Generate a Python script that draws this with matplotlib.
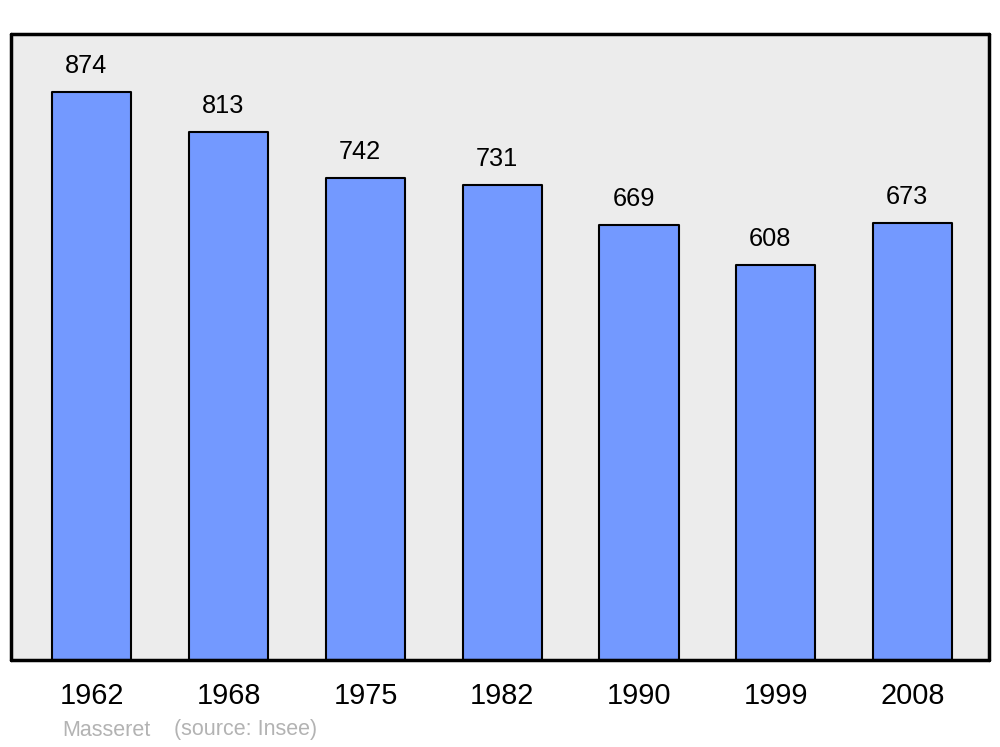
import matplotlib.pyplot as plt

years = ["1962", "1968", "1975", "1982", "1990", "1999", "2008"]
population = [874, 813, 742, 731, 669, 608, 673]

plt.rcParams['font.family'] = ['Liberation Sans', 'DejaVu Sans']

fig = plt.figure(figsize=(10, 7.47), dpi=100)
ax = fig.add_axes([0.011, 87 / 747, 0.978, 626 / 747])
ax.set_facecolor('#ececec')

x = range(len(years))
ax.bar(x, population, width=0.578, color='#7399ff', edgecolor='black',
       linewidth=1.5, joinstyle='round', zorder=2)

for i, v in enumerate(population):
    ax.text(i - 0.04, v + 26 / 0.65, str(v), ha='center', va='center', fontsize=18.3)

ax.set_xlim(-0.592, 6.559)
ax.set_ylim(0, 963)
ax.set_yticks([])
ax.set_xticks(list(x))
ax.set_xticklabels(years, fontsize=20.8)
ax.tick_params(axis='x', length=0, pad=16)
for s in ax.spines.values():
    s.set_linewidth(2.5)
    s.set_capstyle('round')
    s.set_joinstyle('round')

fig.text(0.062, 1 - 730 / 747, "Masseret", color='#b3b3b3', fontsize=15.5, va='center')
fig.text(0.174, 1 - 730 / 747, "(source: Insee)", color='#b3b3b3', fontsize=15.5, va='center')

fig.savefig('out.png', dpi=100)
